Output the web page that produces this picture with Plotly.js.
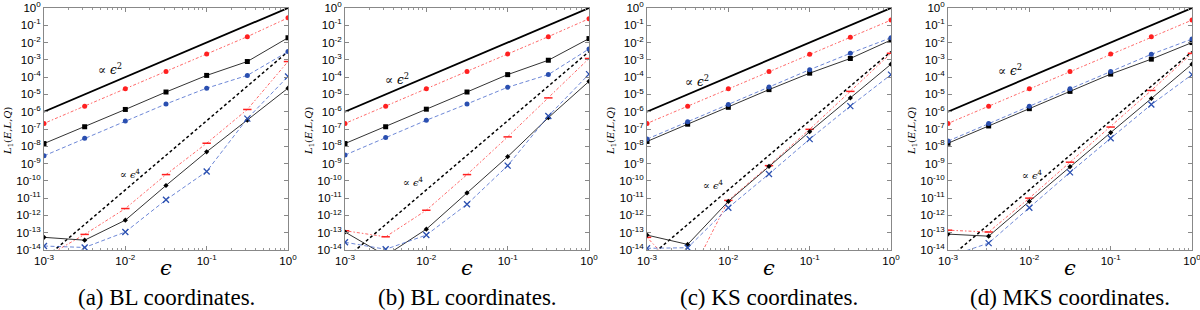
<!DOCTYPE html>
<html><head><meta charset="utf-8">
<script src="https://cdn.plot.ly/plotly-3.0.1.min.js"></script>
<style>html,body{margin:0;padding:0;background:#fff}#chart{width:1200px;height:310px}</style>
</head><body><div id="chart"></div>
<script>
// epsilon sample points
const eps = [1e-3, 3.162e-3, 1e-2, 3.162e-2, 1e-1, 3.162e-1, 1];
// reference slopes
const ref2 = [1e-6, 1e-5, 1e-4, 1e-3, 1e-2, 1e-1, 1];
const ref4 = [3e-15, 3e-13, 3e-11, 3e-9, 3e-7, 3e-5, 3e-3];

// (a) BL coordinates
const aRed2 = [2.1e-7, 2.1e-6, 2.1e-5, 2.1e-4, 2.2e-3, 2.2e-2, 0.27];
const aBlk2 = [1.44e-8, 1.35e-7, 1.35e-6, 1.38e-5, 1.26e-4, 8e-4, 1.9e-2];
const aBlu2 = [2.8e-9, 2.9e-8, 2.9e-7, 2.8e-6, 2.3e-5, 1.26e-4, 3e-3];
const aRed4 = [3.5e-15, 8e-14, 2.5e-12, 2.3e-10, 1.5e-8, 1.35e-6, 8e-4];
const aBlk4 = [5.4e-14, 3.7e-14, 5.3e-13, 5.4e-11, 4.8e-9, 3.2e-7, 2.3e-5];
const aBlu4 = [1.7e-14, 1.4e-14, 1.1e-13, 8e-12, 3.5e-10, 4e-7, 1.1e-4];

// (b) BL coordinates
const bRed2 = [2.1e-7, 2.1e-6, 2.1e-5, 2.1e-4, 2.2e-3, 2.2e-2, 0.24];
const bBlk2 = [1.44e-8, 1.35e-7, 1.4e-6, 1.38e-5, 1.4e-4, 9.5e-4, 1.7e-2];
const bBlu2 = [3.1e-9, 3.2e-8, 3.2e-7, 2.8e-6, 2.6e-5, 1.4e-4, 4.3e-3];
const bRed4 = [1.3e-13, 5.8e-14, 2e-12, 2.3e-10, 3.5e-8, 6.3e-6, 1.2e-3];
const bBlk4 = [1.1e-13, 4.7e-15, 1.6e-13, 2e-11, 2.5e-9, 4.5e-7, 5.7e-5];
const bBlu4 = [2.8e-14, 1.1e-14, 7.3e-14, 4.4e-12, 7.6e-10, 5.6e-7, 1.5e-4];

// (c) KS coordinates
const cRed2 = [2.1e-7, 2.1e-6, 2.1e-5, 2.1e-4, 2.1e-3, 2e-2, 0.2];
const cBlk2 = [1.9e-8, 1.9e-7, 1.8e-6, 1.9e-5, 1.7e-4, 1.2e-3, 1.4e-2];
const cBlu2 = [2.6e-8, 2.6e-7, 2.6e-6, 2.7e-5, 2.7e-4, 2.4e-3, 1.9e-2];
const cRed4 = [5.4e-14, 1.7e-16, 7.4e-12, 7.6e-10, 9.6e-8, 1.5e-5, 2.4e-3];
const cBlk4 = [7.3e-14, 2.1e-14, 6.5e-12, 6.9e-10, 7e-8, 6.3e-6, 5.6e-4];
const cBlu4 = [1.25e-14, 1.35e-14, 2.8e-12, 2.5e-10, 2.6e-8, 2.1e-6, 1.4e-4];

// (d) MKS coordinates
const dRed2 = [2.1e-7, 2.1e-6, 2.1e-5, 2.1e-4, 2.2e-3, 2.2e-2, 0.2];
const dBlk2 = [1.5e-8, 1.5e-7, 1.5e-6, 1.5e-5, 1.5e-4, 1.1e-3, 1e-2];
const dBlu2 = [2e-8, 2.1e-7, 2.1e-6, 2.1e-5, 2.1e-4, 2.1e-3, 1.6e-2];
const dRed4 = [1.4e-13, 1.1e-13, 1e-11, 1.2e-9, 1.3e-7, 1.7e-5, 2.4e-3];
const dBlk4 = [8.3e-14, 6.3e-14, 6.5e-12, 6.6e-10, 6.2e-8, 5.8e-6, 5.6e-4];
const dBlu4 = [4e-15, 2.5e-14, 2.8e-12, 3.1e-10, 2.9e-8, 2.6e-6, 1.4e-4];

const captions = ['(a) BL coordinates.', '(b) BL coordinates.', '(c) KS coordinates.', '(d) MKS coordinates.'];
const yExps = [0, -1, -2, -3, -4, -5, -6, -7, -8, -9, -10, -11, -12, -13, -14];
const xExps = [-3, -2, -1, 0];

const panels = [
  {red2: aRed2, blk2: aBlk2, blu2: aBlu2, red4: aRed4, blk4: aBlk4, blu4: aBlu4},
  {red2: bRed2, blk2: bBlk2, blu2: bBlu2, red4: bRed4, blk4: bBlk4, blu4: bBlu4},
  {red2: cRed2, blk2: cBlk2, blu2: cBlu2, red4: cRed4, blk4: cBlk4, blu4: cBlu4},
  {red2: dRed2, blk2: dBlk2, blu2: dBlu2, red4: dRed4, blk4: dBlk4, blu4: dBlu4}
];

// layout geometry (pixels)
const W = 1200, H = 310;
const plotLeft = [44, 345, 647, 948];
const plotW = 244;
const plotTop = 8, plotBottom = 250;
const lab2 = [[110, 69], [397, 79], [697, 81], [1010, 70]];
const lab4 = [[130, 174], [413, 182], [713, 185], [1032, 175]];

const RED = '#ff2020', REDL = 'rgba(255,40,40,0.7)';
const BLU = '#2a4fb0', BLUL = 'rgba(60,95,200,0.75)';
const BLK = '#000000', BLKL = '#333333';

const traces = [];
const layout = {
  width: W, height: H, margin: {l: 0, r: 0, t: 0, b: 0},
  paper_bgcolor: '#fff', plot_bgcolor: '#fff', showlegend: false,
  annotations: []
};

const yTickVals = yExps.map(e => Math.pow(10, e));
const yTickText = yExps.map(e => '10<sup>' + e + '</sup>');
const xTickVals = xExps.map(e => Math.pow(10, e));
const xTickText = xExps.map(e => '10<sup>' + e + '</sup>');

panels.forEach((p, i) => {
  const n = i === 0 ? '' : String(i + 1);
  const xa = 'x' + n, ya = 'y' + n;
  const common = {x: eps, xaxis: xa, yaxis: ya, type: 'scatter', hoverinfo: 'skip'};
  traces.push(Object.assign({}, common, {y: ref2, mode: 'lines', line: {color: BLK, width: 1.8}}));
  traces.push(Object.assign({}, common, {y: ref4, mode: 'lines', line: {color: BLK, width: 1.5, dash: '3px,2.5px'}}));
  traces.push(Object.assign({}, common, {y: p.red2, mode: 'lines+markers', line: {color: REDL, width: 1, dash: '1.5px,2px,3px,2px'}, marker: {color: RED, size: 5, symbol: 'circle'}}));
  traces.push(Object.assign({}, common, {y: p.blk2, mode: 'lines+markers', line: {color: BLKL, width: 1}, marker: {color: BLK, size: 5, symbol: 'square'}}));
  traces.push(Object.assign({}, common, {y: p.blu2, mode: 'lines+markers', line: {color: BLUL, width: 1, dash: '4px,2.5px'}, marker: {color: BLU, size: 5, symbol: 'circle'}}));
  traces.push(Object.assign({}, common, {y: p.red4, mode: 'lines+markers', line: {color: REDL, width: 1, dash: '1.5px,2px,3px,2px'}, marker: {color: RED, size: 6, symbol: 'line-ew-open', line: {color: RED, width: 1.5}}}));
  traces.push(Object.assign({}, common, {y: p.blk4, mode: 'lines+markers', line: {color: BLKL, width: 1}, marker: {color: BLK, size: 4, symbol: 'diamond'}}));
  traces.push(Object.assign({}, common, {y: p.blu4, mode: 'lines+markers', line: {color: BLUL, width: 1, dash: '4px,2.5px'}, marker: {color: BLU, size: 6, symbol: 'x-thin-open', line: {color: BLU, width: 1.3}}}));

  const axStyle = {
    type: 'log', showgrid: false, zeroline: false,
    showline: true, linecolor: '#888', linewidth: 1, mirror: 'ticks',
    ticks: 'inside', ticklen: 4, tickcolor: '#888', tickwidth: 1,
    ticklabeloverflow: 'allow',
    tickfont: {family: 'Liberation Sans, Arial, sans-serif', size: 11.5, color: '#000'}
  };
  layout['xaxis' + n] = Object.assign({}, axStyle, {
    domain: [plotLeft[i] / W, (plotLeft[i] + plotW) / W], anchor: ya,
    range: [-3, 0], tickvals: xTickVals, ticktext: xTickText,
    minor: {ticks: 'inside', ticklen: 2, tickcolor: '#999', dtick: 'D1'}
  });
  layout['yaxis' + n] = Object.assign({}, axStyle, {
    domain: [(H - plotBottom) / H, (H - plotTop) / H], anchor: xa,
    range: [-14, 0], tickvals: yTickVals, ticktext: yTickText
  });

  const cx = plotLeft[i] + plotW / 2;
  layout.annotations.push({xref: 'paper', yref: 'paper', x: cx / W, y: 1 - 297 / H, text: captions[i], showarrow: false,
    font: {family: 'Liberation Serif, Times New Roman, serif', size: 23, color: '#000'}, xanchor: 'center', yanchor: 'middle'});
  layout.annotations.push({xref: 'paper', yref: 'paper', x: cx / W, y: 1 - 268 / H, text: '<i>ϵ</i>', showarrow: false,
    font: {family: 'DejaVu Serif, serif', size: 21, color: '#000'}, xanchor: 'center', yanchor: 'middle'});
  layout.annotations.push({xref: 'paper', yref: 'paper', x: (plotLeft[i] - 36) / W, y: 1 - 131 / H, text: '<i>L</i><sub>1</sub>(<i>E</i>,<i>L</i>,<i>Q</i>)', showarrow: false, textangle: -90,
    font: {family: 'DejaVu Serif, serif', size: 10, color: '#000'}, xanchor: 'center', yanchor: 'middle'});
  layout.annotations.push({xref: 'paper', yref: 'paper', x: lab2[i][0] / W, y: 1 - lab2[i][1] / H, text: '∝ <i>ϵ</i><sup>2</sup>', showarrow: false,
    font: {family: 'DejaVu Serif, serif', size: 12, color: '#000'}, xanchor: 'center', yanchor: 'middle'});
  layout.annotations.push({xref: 'paper', yref: 'paper', x: lab4[i][0] / W, y: 1 - lab4[i][1] / H, text: '∝ <i>ϵ</i><sup>4</sup>', showarrow: false,
    font: {family: 'DejaVu Serif, serif', size: 10, color: '#000'}, xanchor: 'center', yanchor: 'middle'});
});

Plotly.newPlot('chart', traces, layout, {staticPlot: true, displayModeBar: false});
</script>
</body></html>
